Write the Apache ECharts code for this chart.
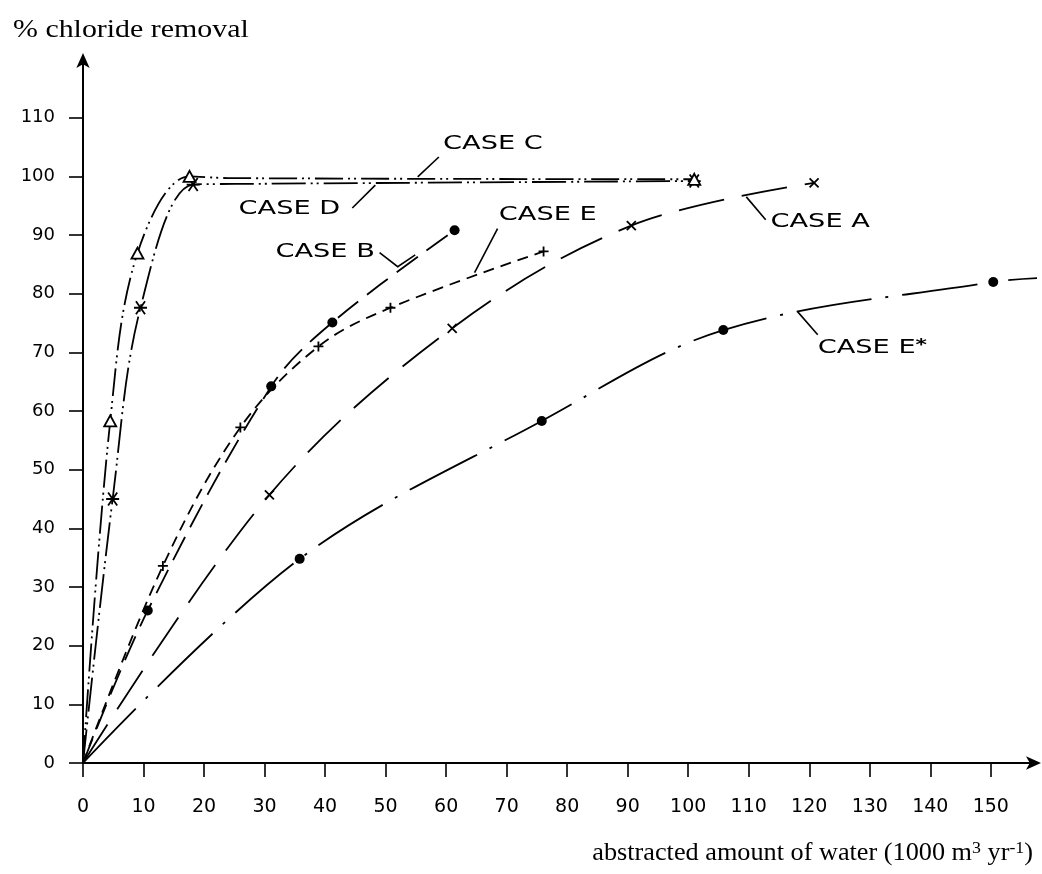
<!DOCTYPE html>
<html>
<head>
<meta charset="utf-8">
<script src="https://cdn.jsdelivr.net/npm/echarts@6/dist/echarts.min.js"></script>
<style>
  html, body { margin: 0; padding: 0; background: #fff; }
  #chart { width: 1042px; height: 874px; }
</style>
</head>
<body>
<div id="chart"></div>
<script>
// Tick values of the two axes
const xTicks = [0, 10, 20, 30, 40, 50, 60, 70, 80, 90, 100, 110, 120, 130, 140, 150];
const yTicks = [0, 10, 20, 30, 40, 50, 60, 70, 80, 90, 100, 110];

// Each case: [abstracted amount (1000 m3/yr), % chloride removal];
// the *Marked arrays flag the computed points that carry a symbol.
const caseA = [[0, 0], [30.8, 45.7], [61.0, 74.1], [90.6, 91.6], [120.8, 98.9]];
const caseAMarked = [false, true, true, true, true];

const caseB = [[0, 0], [10.7, 26.0], [31.1, 64.2], [41.2, 75.1], [61.4, 90.8]];
const caseBMarked = [false, true, true, true, true];

const caseC = [[0, 0], [4.5, 58.3], [9.0, 86.9], [17.6, 100.0], [24.0, 99.7], [101.0, 99.5]];
const caseCMarked = [false, true, true, true, false, true];

const caseD = [[0, 0], [4.9, 45.0], [9.5, 77.6], [18.2, 98.6], [25.0, 98.7], [101.0, 99.2]];
const caseDMarked = [false, true, true, true, false, true];

const caseE = [[0, 0], [13.2, 33.6], [26.0, 57.2], [38.9, 71.0], [50.8, 77.6], [76.1, 87.2]];
const caseEMarked = [false, true, true, true, true, true];

const caseEStar = [[0, 0], [35.8, 34.8], [75.8, 58.3], [105.8, 73.8], [150.4, 82.0], [158.5, 82.7]];
const caseEStarMarked = [false, true, true, true, true, false];

// Curve labels: text anchor and leader line, in data units
const caseLabels = [
  { text: 'CASE C', at: [59.5, 105.5], leader: [[58.8, 103.3], [55.3, 99.9]] },
  { text: 'CASE D', at: [25.7, 94.4], leader: [[44.5, 94.6], [48.3, 98.5]] },
  { text: 'CASE B', at: [31.8, 87.1], leader: [[49.0, 87.0], [52.0, 84.6], [54.9, 86.6]] },
  { text: 'CASE E', at: [68.7, 93.4], leader: [[68.5, 91.1], [64.7, 83.6]] },
  { text: 'CASE A', at: [113.6, 92.2], leader: [[112.8, 92.6], [109.6, 96.5]] },
  { text: 'CASE E{sup|*}', at: [121.4, 70.8], leader: [[121.4, 73.0], [118.1, 76.9]] }
];

const INK = '#000';
const SANS = '"DejaVu Sans", sans-serif';
const SERIF = '"Liberation Serif", "Times New Roman", serif';

const SYM_X = 'path://M0,0L10,10M10,0L0,10';
const SYM_PLUS = 'path://M5,0L5,10M0,5L10,5';
const SYM_AST = 'path://M0,5L10,5M1.5,0.5L8.5,9.5M8.5,0.5L1.5,9.5';

function withMarks(points, marked) {
  return points.map((p, i) => marked[i] ? { value: p } : { value: p, symbol: 'none' });
}

function curve(name, points, marked, dash, symbol, symbolSize, itemStyle) {
  return {
    name: name,
    type: 'line',
    data: withMarks(points, marked),
    smooth: 0.35,
    clip: false,
    symbol: symbol,
    symbolSize: symbolSize,
    showAllSymbol: true,
    itemStyle: itemStyle,
    lineStyle: { color: INK, width: 1.8, type: dash, cap: 'butt' },
    emphasis: { disabled: true },
    z: 3
  };
}

const strokeSym = { color: INK, borderColor: INK, borderWidth: 1.8 };

const chart = echarts.init(document.getElementById('chart'));

chart.setOption({
  animation: false,
  backgroundColor: '#fff',
  grid: { left: 83, right: 7, top: 59, bottom: 111, outerBoundsMode: 'none' },
  xAxis: {
    type: 'value',
    min: 0,
    max: 157.3,
    interval: 10,
    splitLine: { show: false },
    axisLine: {
      lineStyle: { color: INK, width: 2 },
      symbol: ['none', 'arrow'],
      symbolSize: [10, 15],
      symbolOffset: [0, 6]
    },
    axisTick: { length: 14, lineStyle: { color: INK, width: 1.6 }, customValues: xTicks },
    axisLabel: {
      customValues: xTicks,
      margin: 35,
      color: INK,
      fontFamily: SANS,
      fontSize: 19
    }
  },
  yAxis: {
    type: 'value',
    min: 0,
    max: 120,
    interval: 10,
    splitLine: { show: false },
    axisLine: {
      onZero: false,
      lineStyle: { color: INK, width: 2 },
      symbol: ['none', 'arrow'],
      symbolSize: [10, 15],
      symbolOffset: [0, 6]
    },
    axisTick: { length: 14, lineStyle: { color: INK, width: 1.6 }, customValues: yTicks },
    axisLabel: {
      customValues: yTicks,
      margin: 28,
      color: INK,
      fontFamily: SANS,
      fontSize: 18
    }
  },
  series: [
    curve('CASE E*', caseEStar, caseEStarMarked, [76, 14, 3, 14], 'circle', 10, { color: INK }),
    curve('CASE A', caseA, caseAMarked, [46, 18], SYM_X, 9, strokeSym),
    curve('CASE E', caseE, caseEMarked, [11, 7], SYM_PLUS, 10, strokeSym),
    curve('CASE B', caseB, caseBMarked, [26, 11], 'circle', 10, { color: INK }),
    curve('CASE D', caseD, caseDMarked, [34, 5, 2, 4, 2, 5], SYM_AST, 13, strokeSym),
    curve('CASE C', caseC, caseCMarked, [28, 5, 2, 4, 2, 5], 'triangle', [12, 11],
      { color: '#fff', borderColor: INK, borderWidth: 1.8 })
  ]
});

// Curve labels, leader lines and axis titles placed through the grid's coordinate system
const toPx = p => chart.convertToPixel({ gridIndex: 0 }, p);
const graphics = [];

caseLabels.forEach(lab => {
  const p = toPx(lab.at);
  graphics.push({
    type: 'text',
    x: p[0],
    y: p[1],
    scaleX: 1.36,
    z: 10,
    style: {
      text: lab.text,
      fontFamily: SANS,
      fontSize: 20,
      fill: INK,
      textAlign: 'left',
      textVerticalAlign: 'middle',
      rich: {
        sup: { fontFamily: SANS, fontSize: 16, fontWeight: 'bold', verticalAlign: 'top', fill: INK }
      }
    }
  });
  graphics.push({
    type: 'polyline',
    z: 10,
    shape: { points: lab.leader.map(toPx) },
    style: { stroke: INK, lineWidth: 1.6, fill: null }
  });
});

graphics.push({
  type: 'text',
  x: 13,
  y: 30,
  scaleX: 1.15,
  style: {
    text: '% chloride removal',
    fontFamily: SERIF,
    fontSize: 26,
    fill: INK,
    textAlign: 'left',
    textVerticalAlign: 'middle'
  }
});

graphics.push({
  type: 'text',
  x: 1033,
  y: 853,
  scaleX: 1.05,
  style: {
    text: 'abstracted amount of water (1000 m{sup|3} yr{sup|-1})',
    fontFamily: SERIF,
    fontSize: 25,
    fill: INK,
    textAlign: 'right',
    textVerticalAlign: 'middle',
    rich: {
      sup: { fontFamily: SERIF, fontSize: 17, verticalAlign: 'top', fill: INK }
    }
  }
});

chart.setOption({ graphic: graphics });
</script>
</body>
</html>
